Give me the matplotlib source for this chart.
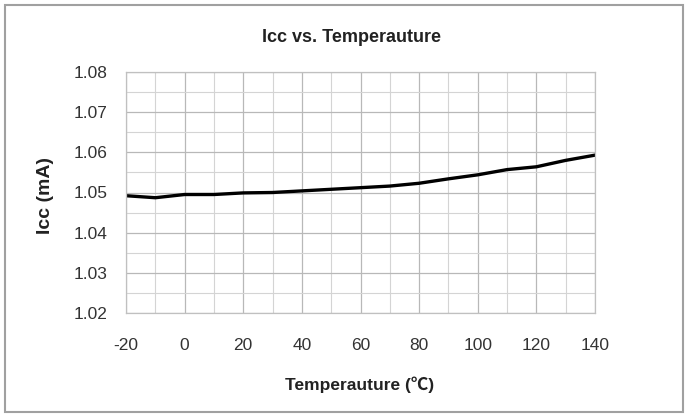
import matplotlib
matplotlib.use("Agg")
import matplotlib.pyplot as plt
from matplotlib.patches import Rectangle
from matplotlib.ticker import MultipleLocator

temps = [-20, -10, 0, 10, 20, 30, 40, 50, 60, 70, 80, 90, 100, 110, 120, 130, 140]
icc = [1.0492, 1.0487, 1.0495, 1.0495, 1.0499, 1.0500, 1.0504, 1.0508, 1.0512, 1.0516,
       1.0523, 1.0534, 1.0544, 1.0557, 1.0564, 1.0580, 1.0593]
x_ticks = [-20, 0, 20, 40, 60, 80, 100, 120, 140]
y_ticks = [1.02, 1.03, 1.04, 1.05, 1.06, 1.07, 1.08]

plt.rcParams['font.family'] = ['Liberation Sans', 'Noto Sans CJK SC', 'DejaVu Sans']

W, H = 689, 420
fig = plt.figure(figsize=(W / 100, H / 100), dpi=100)
fig.patch.set_facecolor('white')

def fx(px):
    return px / W

def fy(py):
    return 1 - py / H

# outer frame
fig.add_artist(Rectangle((fx(5), fy(412)), (683 - 5) / W, (412 - 5) / H,
                         transform=fig.transFigure, fill=False,
                         edgecolor='#a0a0a0', linewidth=1.5))

left, right, top, bottom = 126, 595, 72, 313
ax = fig.add_axes([fx(left), fy(bottom), (right - left) / W, (bottom - top) / H])
ax.plot(temps, icc, color='black', linewidth=2.4, solid_capstyle='round')

ax.set_xlim(-20, 140)
ax.set_ylim(1.02, 1.08)
ax.set_xticks(x_ticks)
ax.set_yticks(y_ticks)
ax.set_xticklabels([str(t) for t in x_ticks])
ax.set_yticklabels([f"{v:.2f}" for v in y_ticks])
ax.xaxis.set_minor_locator(MultipleLocator(10))
ax.yaxis.set_minor_locator(MultipleLocator(0.005))
ax.grid(which='major', color='#b8b8b8', linewidth=0.9)
ax.grid(which='minor', color='#d4d4d4', linewidth=0.8)
ax.set_axisbelow(True)
for s in ax.spines.values():
    s.set_color('#c0c0c0')
    s.set_linewidth(0.9)
ax.tick_params(which='both', length=0, labelsize=12.5, colors='#333333')
ax.tick_params(axis='y', pad=13)
ax.tick_params(axis='x', pad=18)

fig.text(fx(352), fy(37), 'Icc vs. Temperauture', fontsize=13, fontweight='bold',
         color='#222222', ha='center', va='center')
fig.text(fx(360), fy(385), 'Temperauture (℃)', fontsize=12.5, fontweight='bold',
         color='#222222', ha='center', va='center')
fig.text(fx(45), fy(195), 'Icc (mA)', fontsize=14, fontweight='bold',
         color='#222222', ha='center', va='center', rotation=90)

fig.savefig('out.png', dpi=100, facecolor='white')
